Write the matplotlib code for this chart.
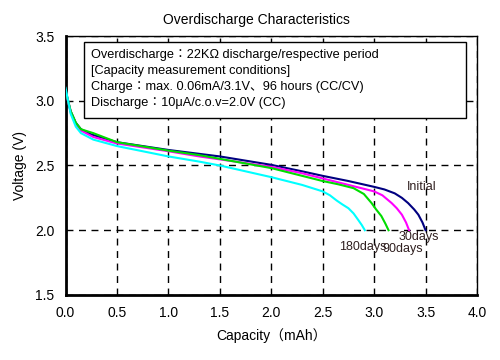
import matplotlib
matplotlib.use("Agg")
import matplotlib.pyplot as plt
from matplotlib.patches import Rectangle

plt.rcParams['font.family'] = ['Liberation Sans', 'Noto Sans CJK JP', 'DejaVu Sans']

# Data
init_x = [0, 0.05, 0.1, 0.15, 0.25, 0.5, 1.0, 1.3, 1.5, 2.0, 2.3, 2.5, 2.75, 3.0, 3.1, 3.2, 3.27, 3.33, 3.39, 3.43, 3.47, 3.5]
init_v = [3.08, 2.92, 2.83, 2.78, 2.74, 2.68, 2.62, 2.59, 2.57, 2.505, 2.455, 2.42, 2.38, 2.335, 2.315, 2.285, 2.25, 2.21, 2.16, 2.12, 2.06, 2.0]

d30_x = [0, 0.05, 0.1, 0.15, 0.27, 0.5, 1.0, 1.3, 2.0, 2.3, 2.5, 2.75, 3.0, 3.08, 3.17, 3.22, 3.27, 3.31, 3.34]
d30_v = [3.08, 2.91, 2.82, 2.77, 2.72, 2.67, 2.61, 2.57, 2.49, 2.44, 2.40, 2.35, 2.30, 2.27, 2.21, 2.17, 2.12, 2.06, 2.0]

d90_x = [0, 0.05, 0.1, 0.15, 0.27, 0.5, 1.0, 1.3, 2.0, 2.3, 2.5, 2.65, 2.8, 2.9, 2.975, 3.02, 3.07, 3.11, 3.14]
d90_v = [3.08, 2.92, 2.83, 2.78, 2.75, 2.68, 2.615, 2.58, 2.48, 2.42, 2.38, 2.355, 2.325, 2.28, 2.21, 2.16, 2.11, 2.05, 2.0]

d180_x = [0, 0.05, 0.1, 0.15, 0.27, 0.5, 1.0, 1.3, 1.5, 2.0, 2.3, 2.5, 2.57, 2.635, 2.69, 2.75, 2.8, 2.845, 2.88, 2.91]
d180_v = [3.10, 2.90, 2.80, 2.75, 2.70, 2.65, 2.57, 2.53, 2.50, 2.41, 2.35, 2.30, 2.27, 2.23, 2.20, 2.17, 2.13, 2.08, 2.04, 2.0]

series_labels = ["Initial", "30days", "90days", "180days"]
label_pos = [(3.46, 2.335), (3.435, 1.95), (3.28, 1.855), (2.89, 1.87)]

x_ticks = [0.0, 0.5, 1.0, 1.5, 2.0, 2.5, 3.0, 3.5, 4.0]
y_ticks = [1.5, 2.0, 2.5, 3.0, 3.5]

info_lines = [
    "Overdischarge\uff1a22K\u03a9 discharge/respective period",
    "[Capacity measurement conditions]",
    "Charge\uff1amax. 0.06mA/3.1V\u300196 hours (CC/CV)",
    "Discharge\uff1a10\u03bcA/c.o.v=2.0V (CC)",
]

fig = plt.figure(figsize=(5, 3.6), dpi=100)
ax = fig.add_axes([0.131, 0.1806, 0.823, 0.7194])

ax.set_xlim(0, 4.0)
ax.set_ylim(1.5, 3.5)
ax.set_xticks(x_ticks)
ax.set_yticks(y_ticks)
ax.set_xticklabels([f"{t:.1f}" for t in x_ticks])
ax.set_yticklabels([f"{t:.1f}" for t in y_ticks])
ax.tick_params(length=0, labelsize=10, pad=8)

ax.grid(True, color='black', linestyle=(0, (5, 4)), linewidth=1.0, zorder=0)
ax.set_axisbelow(True)

ax.plot(init_x, init_v, color='#000080', lw=1.5, zorder=3)
ax.plot(d30_x, d30_v, color='#FF00FF', lw=1.5, zorder=3)
ax.plot(d90_x, d90_v, color='#00DD00', lw=1.5, zorder=3)
ax.plot(d180_x, d180_v, color='#00FFFF', lw=1.5, zorder=3)

for lab, (lx, ly) in zip(series_labels, label_pos):
    ax.text(lx, ly, lab, fontsize=9, color='#302020', ha='center', va='center', zorder=4)

box = Rectangle((0.045, 0.683), 0.928, 0.294, transform=ax.transAxes,
                facecolor='white', edgecolor='black', lw=1.0, zorder=2)
ax.add_patch(box)
for i, (line, yy) in enumerate(zip(info_lines, [0.927, 0.864, 0.802, 0.743])):
    ax.text(0.062, yy, line, transform=ax.transAxes, fontsize=9.2, ha='left', va='center', zorder=4)

for s in ['left', 'bottom']:
    ax.spines[s].set_linewidth(2.0)
for s in ['top', 'right']:
    ax.spines[s].set_linewidth(1.0)

fig.text(0.513, 0.944, "Overdischarge Characteristics", ha='center', va='center', fontsize=10)
ax.set_xlabel("Capacity\uff08mAh\uff09", fontsize=10, labelpad=6)
ax.set_ylabel("Voltage (V)", fontsize=10, labelpad=6)

fig.savefig("out.png", dpi=100)
